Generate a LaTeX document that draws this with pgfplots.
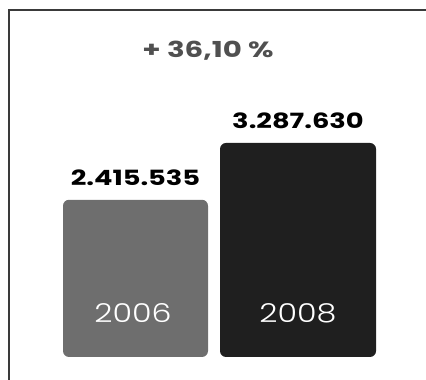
\documentclass[border=0pt]{standalone}
\usepackage{pgfplots}
\pgfplotsset{compat=1.18}
\usepackage{fontspec}
\setmainfont{Poppins}
\newfontfamily\valfont{Poppins}[FakeStretch=1.3]
\newfontfamily\pctfont{Poppins}[FakeStretch=1.33]
\newfontfamily\yearfont{Poppins Light}[FakeStretch=1.22]
\definecolor{bargray}{HTML}{6E6E6E}
\definecolor{barblack}{HTML}{1F1F1F}
\definecolor{framec}{HTML}{3A3A3A}
\definecolor{pctc}{HTML}{505050}
\begin{document}
\begin{tikzpicture}
\begin{axis}[
  scale only axis,
  width=426pt, height=380pt,
  xmin=0, xmax=426,
  ymin=-353343, ymax=5484505,
  axis lines=none,
  ticks=none,
  clip=false,
  ybar,
  every node near coord/.append style={font=\valfont\bfseries\fontsize{21}{23}\selectfont, anchor=south, yshift=11pt, black},
  nodes near coords,
  point meta=explicit symbolic,
]
\addplot[fill=bargray, draw=none, bar width=145pt, rounded corners=6pt, bar shift=0pt]
  coordinates {(135.5,2415535) [2.415.535]};
\addplot[fill=barblack, draw=none, bar width=156pt, rounded corners=6pt, bar shift=0pt]
  coordinates {(298,3287630) [3.287.630]};
\node[white, font=\yearfont\fontsize{26}{28}\selectfont] at (axis cs:133,668000) {2006};
\node[white, font=\yearfont\fontsize{26}{28}\selectfont] at (axis cs:298,668000) {2008};
\node[pctc, font=\pctfont\bfseries\fontsize{22}{24}\selectfont] at (axis cs:208,4700000) {+ 36,10 \%};
\draw[framec, line width=1.5pt] (rel axis cs:0.0211,0) -- (rel axis cs:0.0211,0.9737) -- (rel axis cs:1,0.9737);
\end{axis}
\pgfresetboundingbox
\path[use as bounding box] (current axis.south west) rectangle (current axis.north east);
\end{tikzpicture}
\end{document}
